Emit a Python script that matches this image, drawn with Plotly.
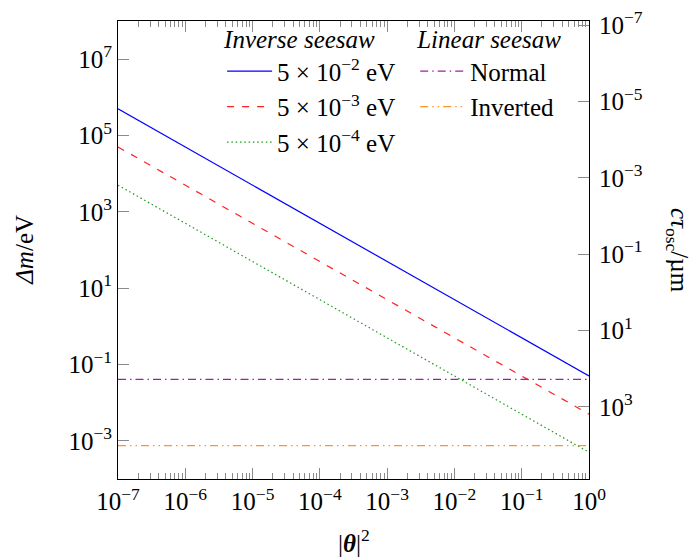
import plotly.graph_objects as go

# ---- data ----
theta2 = [1e-7, 1e0]                       # |theta|^2 endpoints
inv_5e2 = [5e5, 5e-2]                      # Δm for m = 5e-2 eV
inv_5e3 = [5e4, 5e-3]                      # Δm for m = 5e-3 eV
inv_5e4 = [5e3, 5e-4]                      # Δm for m = 5e-4 eV
lin_normal = [4.1e-2, 4.1e-2]
lin_inverted = [7.5e-4, 7.5e-4]

x_tickvals = [1e-7, 1e-6, 1e-5, 1e-4, 1e-3, 1e-2, 1e-1, 1e0]
x_ticktext = ["10<sup>−7</sup>", "10<sup>−6</sup>", "10<sup>−5</sup>", "10<sup>−4</sup>",
              "10<sup>−3</sup>", "10<sup>−2</sup>", "10<sup>−1</sup>", "10<sup>0</sup>"]
yl_tickvals = [1e-3, 1e-1, 1e1, 1e3, 1e5, 1e7]
yl_ticktext = ["10<sup>−3</sup>", "10<sup>−1</sup>", "10<sup>1</sup>", "10<sup>3</sup>",
               "10<sup>5</sup>", "10<sup>7</sup>"]
yr_tickvals = [1e-7, 1e-5, 1e-3, 1e-1, 1e1, 1e3]
yr_ticktext = ["10<sup>−7</sup>", "10<sup>−5</sup>", "10<sup>−3</sup>", "10<sup>−1</sup>",
               "10<sup>1</sup>", "10<sup>3</sup>"]

FONT = "Liberation Serif"
FS = 25

def F(size=FS):
    return dict(family=FONT, size=size, color="black")

fig = go.Figure()

def add(y, name, color, dash, legend, group):
    fig.add_trace(go.Scatter(x=theta2, y=y, mode="lines", name=name,
                             line=dict(color=color, width=1.2, dash=dash),
                             legend=legend, legendgroup=group))

add(inv_5e2, "5 × 10<sup>−2</sup> eV", "#0000ff", "solid", "legend", "a")
add(inv_5e3, "5 × 10<sup>−3</sup> eV", "#ff2020", "7px,8px", "legend", "b")
add(inv_5e4, "5 × 10<sup>−4</sup> eV", "#1f991f", "1.5px,2.8px", "legend", "c")
add(lin_normal, "Normal", "#a020a0", "8px,4px,1.5px,4px", "legend2", "d")
add(lin_inverted, "Inverted", "#ff9428", "8px,4px,1.5px,4px,1.5px,4px", "legend2", "e")

# invisible trace for right axis
fig.add_trace(go.Scatter(x=theta2, y=[1, 1], yaxis="y2", mode="lines",
                         line=dict(width=0), showlegend=False, hoverinfo="skip"))

tickcol = "#8a8a8a"
fig.update_layout(
    width=694, height=558,
    margin=dict(l=118, r=105, t=8, b=79),
    plot_bgcolor="white", paper_bgcolor="white",
    font=F(),
    xaxis=dict(type="log", range=[-7, 0], tickvals=x_tickvals, ticktext=x_ticktext,
               tickfont=F(), ticklabeloverflow="allow",
               ticks="inside", ticklen=11, tickcolor=tickcol, tickwidth=1,
               showline=True, linecolor="black", linewidth=1, mirror="ticks",
               showgrid=False, zeroline=False,
               minor=dict(ticks="inside", ticklen=6, tickcolor=tickcol, dtick="D1", showgrid=False)),
    yaxis=dict(type="log", range=[-4, 8], tickvals=yl_tickvals, ticktext=yl_ticktext,
               tickfont=F(), ticklabeloverflow="allow",
               ticks="inside", ticklen=11, tickcolor=tickcol, tickwidth=1,
               showline=True, linecolor="black", linewidth=1,
               showgrid=False, zeroline=False),
    yaxis2=dict(type="log", range=[4.89, -7.11], overlaying="y", side="right",
                tickvals=yr_tickvals, ticktext=yr_ticktext,
                tickfont=F(), ticklabeloverflow="allow", ticklabelstandoff=4,
                ticks="inside", ticklen=11, tickcolor=tickcol, tickwidth=1,
                showline=True, linecolor="black", linewidth=1,
                showgrid=False, zeroline=False),
    legend=dict(x=0.221, y=1.011, xanchor="left", yanchor="top",
                title=dict(text="<i>Inverse seesaw</i>", font=F()),
                bgcolor="rgba(0,0,0,0)", font=F(), tracegroupgap=0,
                itemwidth=45),
    legend2=dict(x=0.631, y=1.011, xanchor="left", yanchor="top",
                 title=dict(text="<i>Linear seesaw</i>", font=F()),
                 bgcolor="rgba(0,0,0,0)", font=F(), tracegroupgap=0,
                 itemwidth=45),
    showlegend=True,
    annotations=[
        dict(text="<i>Δm</i>/eV", x=-0.200, y=0.5, xref="paper", yref="paper",
             xanchor="center", yanchor="middle",
             textangle=-90, showarrow=False, font=F()),
        dict(text="<i>cτ</i><sub>osc</sub>/µm", x=1.189, y=0.5, xref="paper", yref="paper",
             xanchor="center", yanchor="middle",
             textangle=90, showarrow=False, font=F()),
        dict(text="|<b><i>θ</i></b>|<sup>2</sup>", x=0.5, y=-0.136, xref="paper", yref="paper",
             xanchor="center", yanchor="middle",
             showarrow=False, font=F()),
    ],
)

fig.write_html("out.html", config={"displayModeBar": False},
               post_script="document.body.style.margin='0px';")
